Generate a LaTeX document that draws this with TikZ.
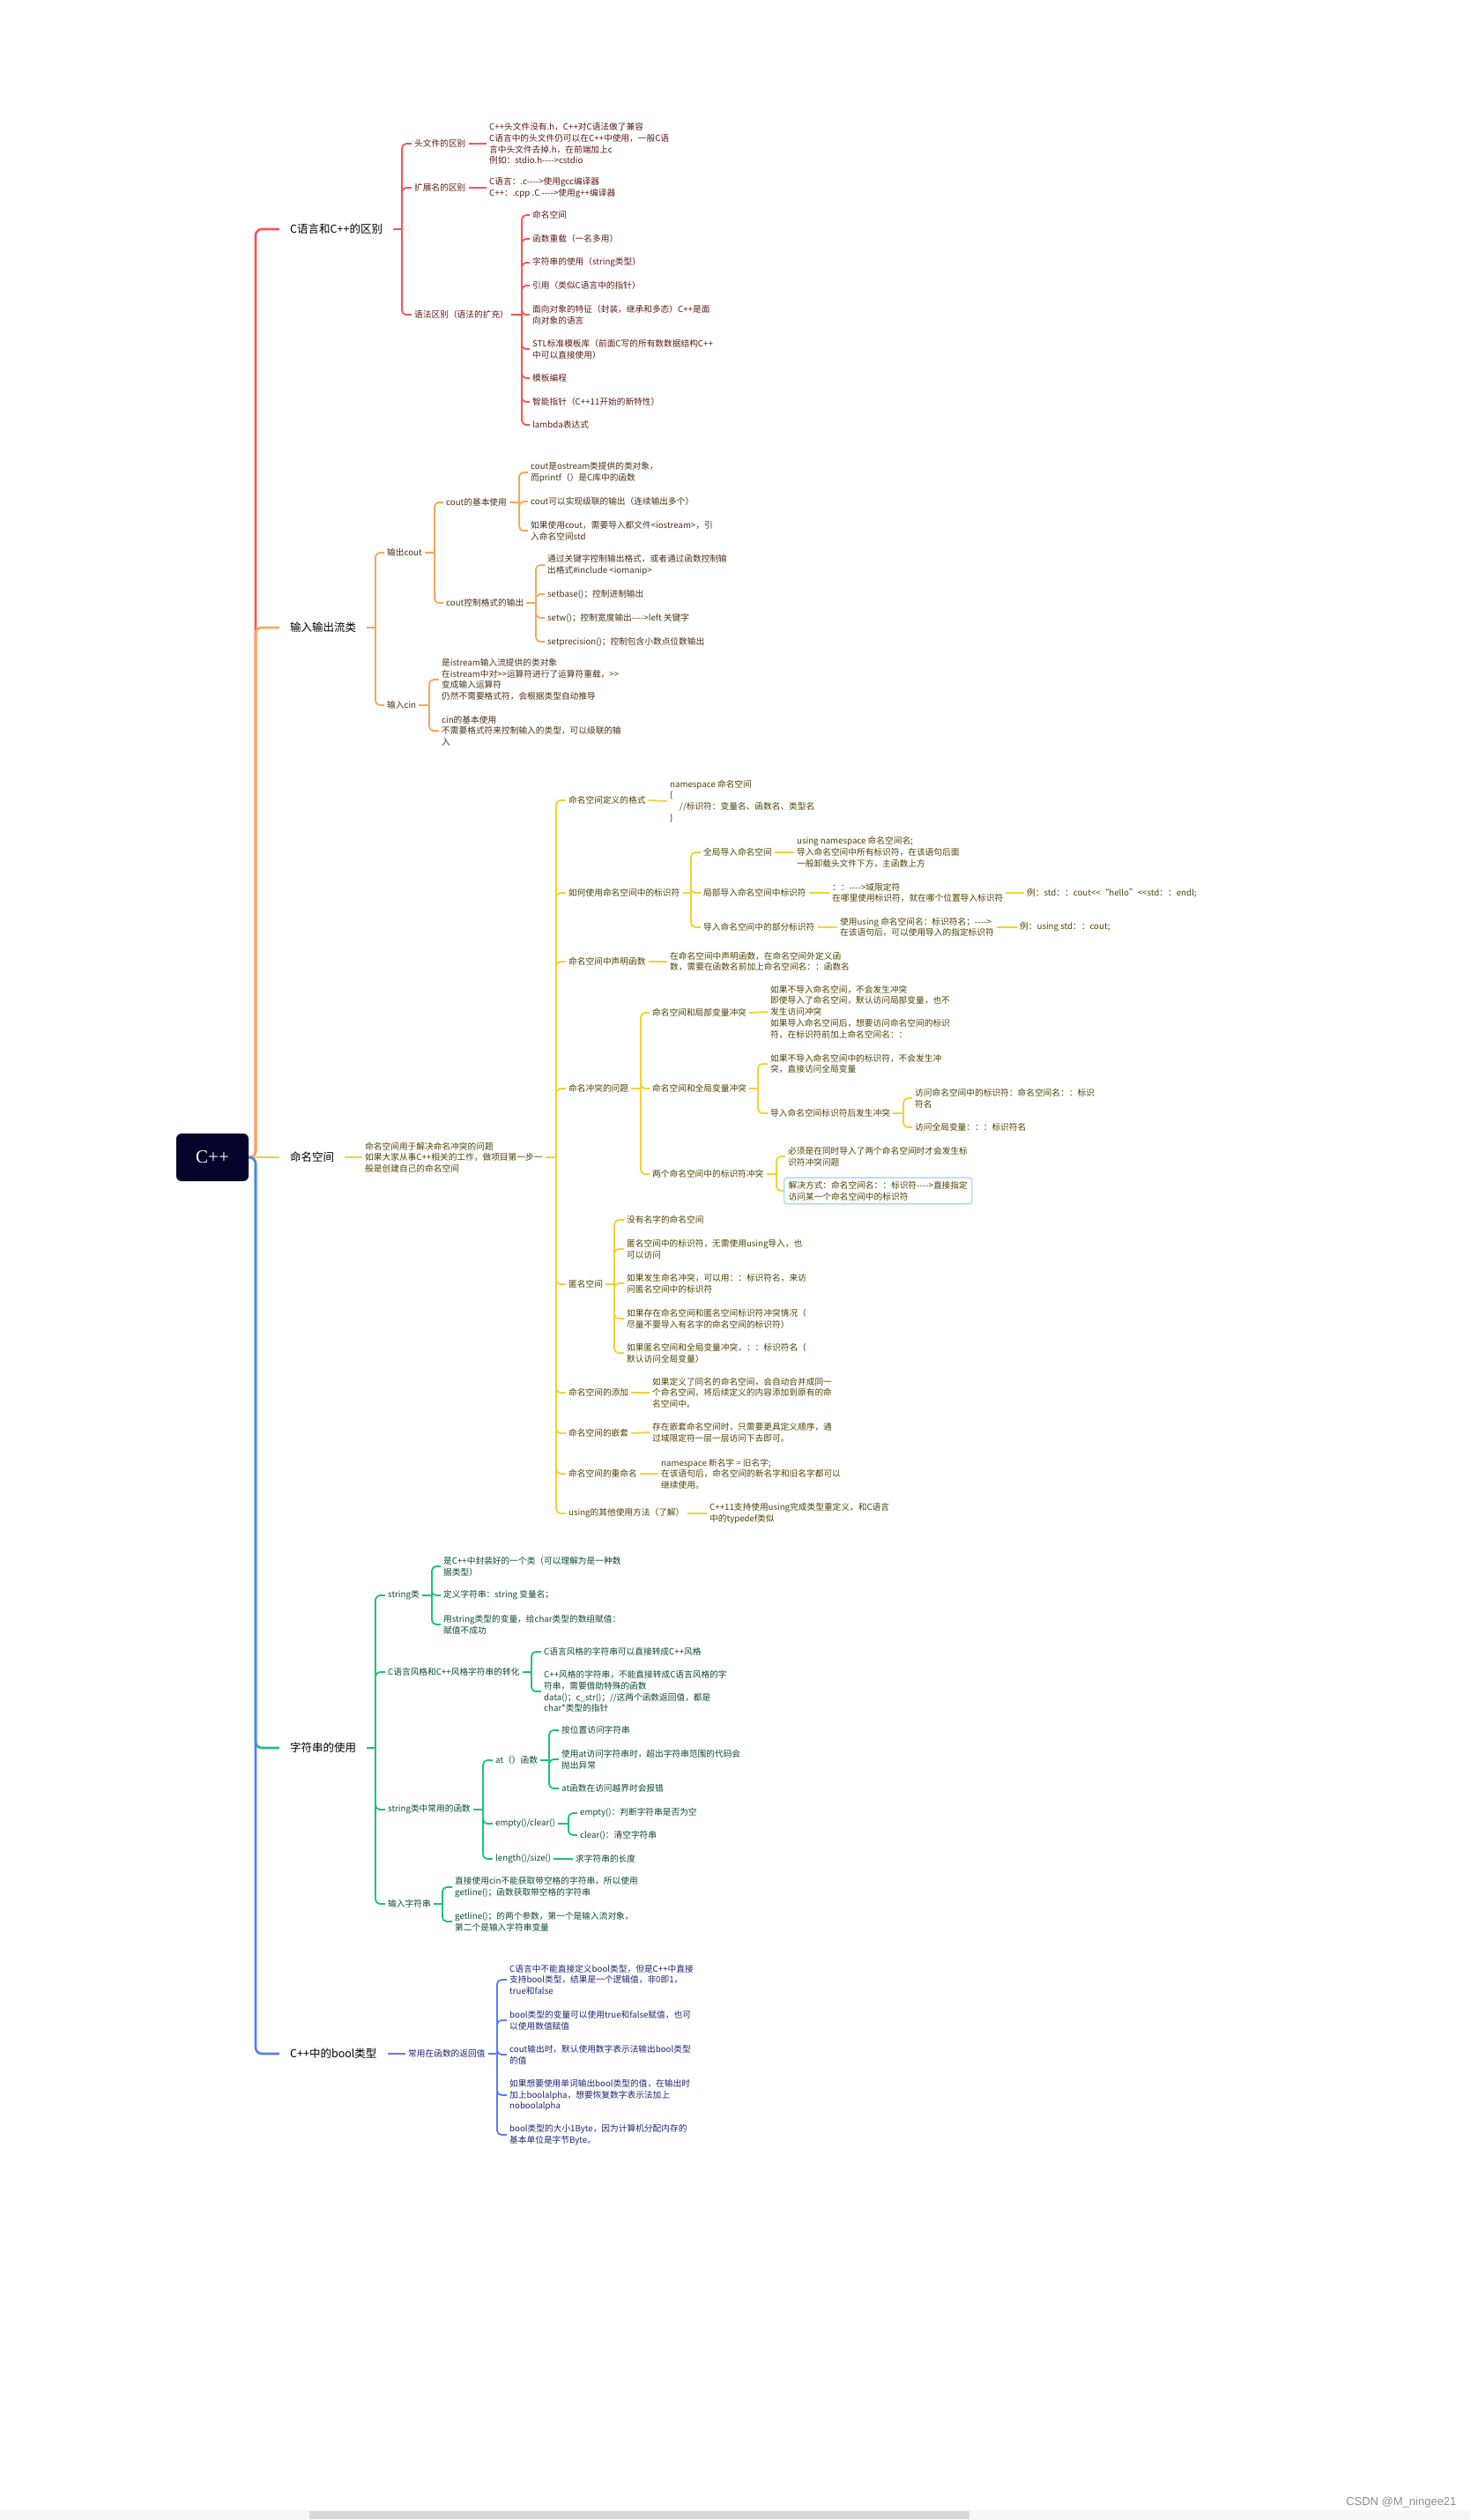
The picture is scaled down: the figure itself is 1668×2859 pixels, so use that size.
\documentclass[tikz,border=0pt]{standalone}
\usepackage{fontspec}
\usepackage{xcolor}
\newfontfamily\cjk{Noto Sans CJK SC}
\newfontfamily\rootfont{Liberation Serif}
\newfontfamily\marksans{Liberation Sans}

\definecolor{rootnavy}{HTML}{03032B}
\definecolor{redc}{HTML}{F85454}
\definecolor{orangec}{HTML}{F9A65A}
\definecolor{yellowc}{HTML}{F5D12F}
\definecolor{greenc}{HTML}{19C37D}
\definecolor{bluec}{HTML}{5B7BF5}
\definecolor{redtext}{HTML}{5C1A14}
\definecolor{orangetext}{HTML}{4A3015}
\definecolor{yellowtext}{HTML}{4F4100}
\definecolor{greentext}{HTML}{0A4A33}
\definecolor{bluetext}{HTML}{1B2470}
\definecolor{boxblue}{HTML}{A9DDF3}

\tikzset{
    rootbox/.style={fill=rootnavy, rounded corners=6pt, minimum width=82pt, minimum height=54pt, text=white, font=\rootfont\fontsize{21}{24}\selectfont},
    topic/.style={anchor=west, inner xsep=12pt, text=black, font=\cjk\fontsize{12.5}{15}\selectfont},
    subtopic/.style={anchor=west, inner xsep=3pt, inner ysep=1pt, align=left, font=\cjk\fontsize{9.7}{12.7}\selectfont},
    tipbox/.style={subtopic, draw=boxblue, line width=1.3pt, rounded corners=3pt, inner xsep=5pt, inner ysep=4pt},
    spine/.style={line width=2.6pt, rounded corners=7pt},
    twig/.style={line width=1.8pt, rounded corners=5pt},
}

\begin{document}
\begin{tikzpicture}[x=1pt, y=-1pt]
    \useasboundingbox (0,0) rectangle (1668,2859);

    % root block
    \node[rootbox] (root) at (241,1313) {C++};
    \coordinate (hub) at (290,1313);

    % C vs C++ branch
    \begin{scope}[every node/.append style={text=redtext}, twig/.append style={draw=redc}]
    \node[topic] (cdiff) at (317,260) {C语言和C++的区别};
    \coordinate (jcdiff) at (456,260);
    \node[subtopic] (hdr) at (467,163) {头文件的区别};
    \node[subtopic] (hdrtxt) at (552,163) {C++头文件没有.h，C++对C语法做了兼容\\C语言中的头文件仍可以在C++中使用，一般C语\\言中头文件去掉.h，在前端加上c\\例如：stdio.h---->cstdio};
    \node[subtopic] (ext) at (467,213) {扩展名的区别};
    \node[subtopic] (exttxt) at (552,213) {C语言：.c---->使用gcc编译器\\C++：.cpp .C ---->使用g++编译器};
    \node[subtopic] (syn) at (467,357) {语法区别（语法的扩充）};
    \coordinate (jsyn) at (592,357);
    \node[subtopic] (syn1) at (601,244) {命名空间};
    \node[subtopic] (syn2) at (601,271) {函数重载（一名多用）};
    \node[subtopic] (syn3) at (601,298) {字符串的使用（string类型）};
    \node[subtopic] (syn4) at (601,324) {引用（类似C语言中的指针）};
    \node[subtopic] (syn5) at (601,357) {面向对象的特征（封装，继承和多态）C++是面\\向对象的语言};
    \node[subtopic] (syn6) at (601,396) {STL标准模板库（前面C写的所有数数据结构C++\\中可以直接使用）};
    \node[subtopic] (syn7) at (601,429) {模板编程};
    \node[subtopic] (syn8) at (601,456) {智能指针（C++11开始的新特性）};
    \node[subtopic] (syn9) at (601,482) {lambda表达式};

    \draw[spine, redc] (root.east) -- (hub) |- (cdiff.west);
    \draw[twig] (cdiff.east) -- (jcdiff);
    \draw[twig] (jcdiff) |- (hdr.west) (jcdiff) |- (ext.west) (jcdiff) |- (syn.west);
    \draw[twig] (hdr.east) -- (hdrtxt.west) (ext.east) -- (exttxt.west);
    \draw[twig] (syn.east) -- (jsyn);
    \draw[twig] (jsyn) |- (syn1.west) (jsyn) |- (syn2.west) (jsyn) |- (syn3.west)
        (jsyn) |- (syn4.west) (jsyn) |- (syn5.west) (jsyn) |- (syn6.west)
        (jsyn) |- (syn7.west) (jsyn) |- (syn8.west) (jsyn) |- (syn9.west);
    \end{scope}

    % input / output branch
    \begin{scope}[every node/.append style={text=orangetext}, twig/.append style={draw=orangec}]
    \node[topic] (iostream) at (317,712) {输入输出流类};
    \coordinate (jio) at (426,712);
    \node[subtopic] (outcout) at (436,627) {输出cout};
    \coordinate (jout) at (493,627);
    \node[subtopic] (coutbasic) at (503,570) {cout的基本使用};
    \coordinate (jcb) at (589,570);
    \node[subtopic] (cb1) at (599,536) {cout是ostream类提供的类对象，\\而printf（）是C库中的函数};
    \node[subtopic] (cb2) at (599,569) {cout可以实现级联的输出（连续输出多个）};
    \node[subtopic] (cb3) at (599,602) {如果使用cout，需要导入都文件<iostream>，引\\入命名空间std};
    \node[subtopic] (coutfmt) at (503,684) {cout控制格式的输出};
    \coordinate (jcf) at (608,684);
    \node[subtopic] (cf1) at (618,641) {通过关键字控制输出格式，或者通过函数控制输\\出格式\#include <iomanip>};
    \node[subtopic] (cf2) at (618,674) {setbase()；控制进制输出};
    \node[subtopic] (cf3) at (618,701) {setw()；控制宽度输出---->left 关键字};
    \node[subtopic] (cf4) at (618,728) {setprecision()；控制包含小数点位数输出};
    \node[subtopic] (incin) at (436,800) {输入cin};
    \coordinate (jcin) at (487,800);
    \node[subtopic] (cin1) at (498,771) {是istream输入流提供的类对象\\在istream中对>>运算符进行了运算符重载，>>\\变成输入运算符\\仍然不需要格式符，会根据类型自动推导};
    \node[subtopic] (cin2) at (498,829) {cin的基本使用\\不需要格式符来控制输入的类型，可以级联的输\\入};

    \draw[spine, orangec] (root.east) -- (hub) |- (iostream.west);
    \draw[twig] (iostream.east) -- (jio);
    \draw[twig] (jio) |- (outcout.west) (jio) |- (incin.west);
    \draw[twig] (outcout.east) -- (jout);
    \draw[twig] (jout) |- (coutbasic.west) (jout) |- (coutfmt.west);
    \draw[twig] (coutbasic.east) -- (jcb);
    \draw[twig] (jcb) |- (cb1.west) (jcb) |- (cb2.west) (jcb) |- (cb3.west);
    \draw[twig] (coutfmt.east) -- (jcf);
    \draw[twig] (jcf) |- (cf1.west) (jcf) |- (cf2.west) (jcf) |- (cf3.west) (jcf) |- (cf4.west);
    \draw[twig] (incin.east) -- (jcin);
    \draw[twig] (jcin) |- (cin1.west) (jcin) |- (cin2.west);
    \end{scope}

    % namespace branch
    \begin{scope}[every node/.append style={text=yellowtext}, twig/.append style={draw=yellowc}]
    \node[topic] (ns) at (317,1313) {命名空间};
    \node[subtopic] (nsdesc) at (411,1313) {命名空间用于解决命名冲突的问题\\如果大家从事C++相关的工作，做项目第一步一\\般是创建自己的命名空间};
    \coordinate (jns) at (631,1313);

    \node[subtopic] (nsdef) at (642,908) {命名空间定义的格式};
    \node[subtopic] (nsdeftxt) at (757,909) {namespace 命名空间\\\{\\\hspace*{11pt}//标识符：变量名、函数名、类型名\\\}};

    \node[subtopic] (nsuse) at (642,1013) {如何使用命名空间中的标识符};
    \coordinate (jnsuse) at (784,1013);
    \node[subtopic] (nsglobal) at (795,967) {全局导入命名空间};
    \node[subtopic] (nsglobaltxt) at (901,967) {using namespace 命名空间名;\\导入命名空间中所有标识符，在该语句后面\\一般卸载头文件下方，主函数上方};
    \node[subtopic] (nslocal) at (795,1013) {局部导入命名空间中标识符};
    \node[subtopic] (nslocaltxt) at (941,1013) {：：---->域限定符\\在哪里使用标识符，就在哪个位置导入标识符};
    \node[subtopic] (nslocalex) at (1162,1013) {例：std：：cout<<“hello”<<std：：endl;};
    \node[subtopic] (nspart) at (795,1052) {导入命名空间中的部分标识符};
    \node[subtopic] (nsparttxt) at (950,1052) {使用using 命名空间名：标识符名；---->\\在该语句后，可以使用导入的指定标识符};
    \node[subtopic] (nspartex) at (1154,1052) {例：using std：：cout;};

    \node[subtopic] (nsfunc) at (642,1091) {命名空间中声明函数};
    \node[subtopic] (nsfunctxt) at (757,1091) {在命名空间中声明函数，在命名空间外定义函\\数，需要在函数名前加上命名空间名：：函数名};

    \node[subtopic] (nsclash) at (642,1235) {命名冲突的问题};
    \coordinate (jclash) at (727,1235);
    \node[subtopic] (clashlocal) at (737,1149) {命名空间和局部变量冲突};
    \node[subtopic] (clashlocaltxt) at (871,1148) {如果不导入命名空间，不会发生冲突\\即使导入了命名空间，默认访问局部变量，也不\\发生访问冲突\\如果导入命名空间后，想要访问命名空间的标识\\符，在标识符前加上命名空间名：：};
    \node[subtopic] (clashglobal) at (737,1235) {命名空间和全局变量冲突};
    \coordinate (jcg) at (860,1235);
    \node[subtopic] (cg1) at (871,1207) {如果不导入命名空间中的标识符，不会发生冲\\突，直接访问全局变量};
    \node[subtopic] (cgafter) at (871,1263) {导入命名空间标识符后发生冲突};
    \coordinate (jcga) at (1025,1263);
    \node[subtopic] (cga1) at (1035,1246) {访问命名空间中的标识符：命名空间名：：标识\\符名};
    \node[subtopic] (cga2) at (1035,1279) {访问全局变量：：：标识符名};
    \node[subtopic] (clashtwo) at (737,1332) {两个命名空间中的标识符冲突};
    \coordinate (jct) at (881,1332);
    \node[subtopic] (ct1) at (891,1312) {必须是在同时导入了两个命名空间时才会发生标\\识符冲突问题};
    \node[tipbox] (ct2) at (889,1351) {解决方式：命名空间名：：标识符---->直接指定\\访问某一个命名空间中的标识符};

    \node[subtopic] (anon) at (642,1457) {匿名空间};
    \coordinate (janon) at (697,1457);
    \node[subtopic] (an1) at (708,1384) {没有名字的命名空间};
    \node[subtopic] (an2) at (708,1417) {匿名空间中的标识符，无需使用using导入，也\\可以访问};
    \node[subtopic] (an3) at (708,1456) {如果发生命名冲突，可以用：：标识符名，来访\\问匿名空间中的标识符};
    \node[subtopic] (an4) at (708,1496) {如果存在命名空间和匿名空间标识符冲突情况（\\尽量不要导入有名字的命名空间的标识符）};
    \node[subtopic] (an5) at (708,1535) {如果匿名空间和全局变量冲突，：：标识符名（\\默认访问全局变量）};

    \node[subtopic] (nsadd) at (642,1580) {命名空间的添加};
    \node[subtopic] (nsaddtxt) at (737,1580) {如果定义了同名的命名空间，会自动合并成同一\\个命名空间，将后续定义的内容添加到原有的命\\名空间中。};
    \node[subtopic] (nsnest) at (642,1626) {命名空间的嵌套};
    \node[subtopic] (nsnesttxt) at (737,1625) {存在嵌套命名空间时，只需要更具定义顺序，通\\过域限定符一层一层访问下去即可。};
    \node[subtopic] (nsrename) at (642,1672) {命名空间的重命名};
    \node[subtopic] (nsrenametxt) at (747,1672) {namespace 新名字 = 旧名字;\\在该语句后，命名空间的新名字和旧名字都可以\\继续使用。};
    \node[subtopic] (usingother) at (642,1717) {using的其他使用方法（了解）};
    \node[subtopic] (usingothertxt) at (802,1717) {C++11支持使用using完成类型重定义，和C语言\\中的typedef类似};

    \draw[spine, yellowc] (root.east) -- (ns.west);
    \draw[twig] (ns.east) -- (nsdesc.west);
    \draw[twig] (nsdesc.east) -- (jns);
    \draw[twig] (jns) |- (nsdef.west) (jns) |- (nsuse.west) (jns) |- (nsfunc.west)
        (jns) |- (nsclash.west) (jns) |- (anon.west) (jns) |- (nsadd.west)
        (jns) |- (nsnest.west) (jns) |- (nsrename.west) (jns) |- (usingother.west);
    \draw[twig] (nsdef.east) -- (nsdeftxt.west) (nsfunc.east) -- (nsfunctxt.west);
    \draw[twig] (nsuse.east) -- (jnsuse);
    \draw[twig] (jnsuse) |- (nsglobal.west) (jnsuse) |- (nslocal.west) (jnsuse) |- (nspart.west);
    \draw[twig] (nsglobal.east) -- (nsglobaltxt.west);
    \draw[twig] (nslocal.east) -- (nslocaltxt.west) (nslocaltxt.east) -- (nslocalex.west);
    \draw[twig] (nspart.east) -- (nsparttxt.west) (nsparttxt.east) -- (nspartex.west);
    \draw[twig] (nsclash.east) -- (jclash);
    \draw[twig] (jclash) |- (clashlocal.west) (jclash) |- (clashglobal.west) (jclash) |- (clashtwo.west);
    \draw[twig] (clashlocal.east) -- (clashlocaltxt.west);
    \draw[twig] (clashglobal.east) -- (jcg);
    \draw[twig] (jcg) |- (cg1.west) (jcg) |- (cgafter.west);
    \draw[twig] (cgafter.east) -- (jcga);
    \draw[twig] (jcga) |- (cga1.west) (jcga) |- (cga2.west);
    \draw[twig] (clashtwo.east) -- (jct);
    \draw[twig] (jct) |- (ct1.west) (jct) |- (ct2.west);
    \draw[twig] (anon.east) -- (janon);
    \draw[twig] (janon) |- (an1.west) (janon) |- (an2.west) (janon) |- (an3.west)
        (janon) |- (an4.west) (janon) |- (an5.west);
    \draw[twig] (nsadd.east) -- (nsaddtxt.west) (nsnest.east) -- (nsnesttxt.west);
    \draw[twig] (nsrename.east) -- (nsrenametxt.west) (usingother.east) -- (usingothertxt.west);
    \end{scope}

    % string branch
    \begin{scope}[every node/.append style={text=greentext}, twig/.append style={draw=greenc}]
    \node[topic] (str) at (317,1983) {字符串的使用};
    \coordinate (jstr) at (426,1983);
    \node[subtopic] (strclass) at (437,1810) {string类};
    \coordinate (jsc) at (490,1810);
    \node[subtopic] (sc1) at (500,1777) {是C++中封装好的一个类（可以理解为是一种数\\据类型）};
    \node[subtopic] (sc2) at (500,1810) {定义字符串：string 变量名；};
    \node[subtopic] (sc3) at (500,1843) {用string类型的变量，给char类型的数组赋值：\\赋值不成功};
    \node[subtopic] (strconv) at (437,1897) {C语言风格和C++风格字符串的转化};
    \coordinate (jcv) at (603,1897);
    \node[subtopic] (cv1) at (614,1874) {C语言风格的字符串可以直接转成C++风格};
    \node[subtopic] (cv2) at (614,1919) {C++风格的字符串，不能直接转成C语言风格的字\\符串，需要借助特殊的函数\\data()；c\_str()；//这两个函数返回值，都是\\char*类型的指针};
    \node[subtopic] (strfunc) at (437,2053) {string类中常用的函数};
    \coordinate (jsf) at (548,2053);
    \node[subtopic] (atfn) at (559,1997) {at（）函数};
    \coordinate (jat) at (623,1997);
    \node[subtopic] (at1) at (634,1963) {按位置访问字符串};
    \node[subtopic] (at2) at (634,1996) {使用at访问字符串时，超出字符串范围的代码会\\抛出异常};
    \node[subtopic] (at3) at (634,2029) {at函数在访问越界时会报错};
    \node[subtopic] (emptyclr) at (559,2069) {empty()/clear()};
    \coordinate (jec) at (645,2069);
    \node[subtopic] (ec1) at (655,2057) {empty()：判断字符串是否为空};
    \node[subtopic] (ec2) at (655,2082) {clear()：清空字符串};
    \node[subtopic] (lensz) at (559,2109) {length()/size()};
    \node[subtopic] (lensztxt) at (650,2109) {求字符串的长度};
    \node[subtopic] (strin) at (437,2160) {输入字符串};
    \coordinate (jsi) at (502,2160);
    \node[subtopic] (si1) at (513,2141) {直接使用cin不能获取带空格的字符串，所以使用\\getline()；函数获取带空格的字符串};
    \node[subtopic] (si2) at (513,2180) {getline()；的两个参数，第一个是输入流对象，\\第二个是输入字符串变量};

    \draw[spine, greenc] (root.east) -- (hub) |- (str.west);
    \draw[twig] (str.east) -- (jstr);
    \draw[twig] (jstr) |- (strclass.west) (jstr) |- (strconv.west) (jstr) |- (strfunc.west) (jstr) |- (strin.west);
    \draw[twig] (strclass.east) -- (jsc);
    \draw[twig] (jsc) |- (sc1.west) (jsc) |- (sc2.west) (jsc) |- (sc3.west);
    \draw[twig] (strconv.east) -- (jcv);
    \draw[twig] (jcv) |- (cv1.west) (jcv) |- (cv2.west);
    \draw[twig] (strfunc.east) -- (jsf);
    \draw[twig] (jsf) |- (atfn.west) (jsf) |- (emptyclr.west) (jsf) |- (lensz.west);
    \draw[twig] (atfn.east) -- (jat);
    \draw[twig] (jat) |- (at1.west) (jat) |- (at2.west) (jat) |- (at3.west);
    \draw[twig] (emptyclr.east) -- (jec);
    \draw[twig] (jec) |- (ec1.west) (jec) |- (ec2.west);
    \draw[twig] (lensz.east) -- (lensztxt.west);
    \draw[twig] (strin.east) -- (jsi);
    \draw[twig] (jsi) |- (si1.west) (jsi) |- (si2.west);
    \end{scope}

    % bool branch
    \begin{scope}[every node/.append style={text=bluetext}, twig/.append style={draw=bluec}]
    \node[topic] (boolt) at (317,2330) {C++中的bool类型};
    \node[subtopic] (boolret) at (460,2330) {常用在函数的返回值};
    \coordinate (jbr) at (564,2330);
    \node[subtopic] (br1) at (575,2246) {C语言中不能直接定义bool类型，但是C++中直接\\支持bool类型，结果是一个逻辑值，非0即1，\\true和false};
    \node[subtopic] (br2) at (575,2292) {bool类型的变量可以使用true和false赋值，也可\\以使用数值赋值};
    \node[subtopic] (br3) at (575,2331) {cout输出时，默认使用数字表示法输出bool类型\\的值};
    \node[subtopic] (br4) at (575,2377) {如果想要使用单词输出bool类型的值，在输出时\\加上boolalpha，想要恢复数字表示法加上\\noboolalpha};
    \node[subtopic] (br5) at (575,2422) {bool类型的大小1Byte，因为计算机分配内存的\\基本单位是字节Byte。};

    \draw[spine, bluec] (root.east) -- (hub) |- (boolt.west);
    \draw[twig] (boolt.east) -- (boolret.west);
    \draw[twig] (boolret.east) -- (jbr);
    \draw[twig] (jbr) |- (br1.west) (jbr) |- (br2.west) (jbr) |- (br3.west) (jbr) |- (br4.west) (jbr) |- (br5.west);
    \end{scope}

    % watermark and scroll bar
    \node[anchor=east, text=black!45, font=\marksans\fontsize{13}{15}\selectfont] (mark) at (1656,2839) {CSDN @M\_ningee21};
    \fill[black!3] (0,2848) rectangle (1668,2859);
    \fill[black!15] (351,2849) rectangle (1100,2858);
\end{tikzpicture}
\end{document}
